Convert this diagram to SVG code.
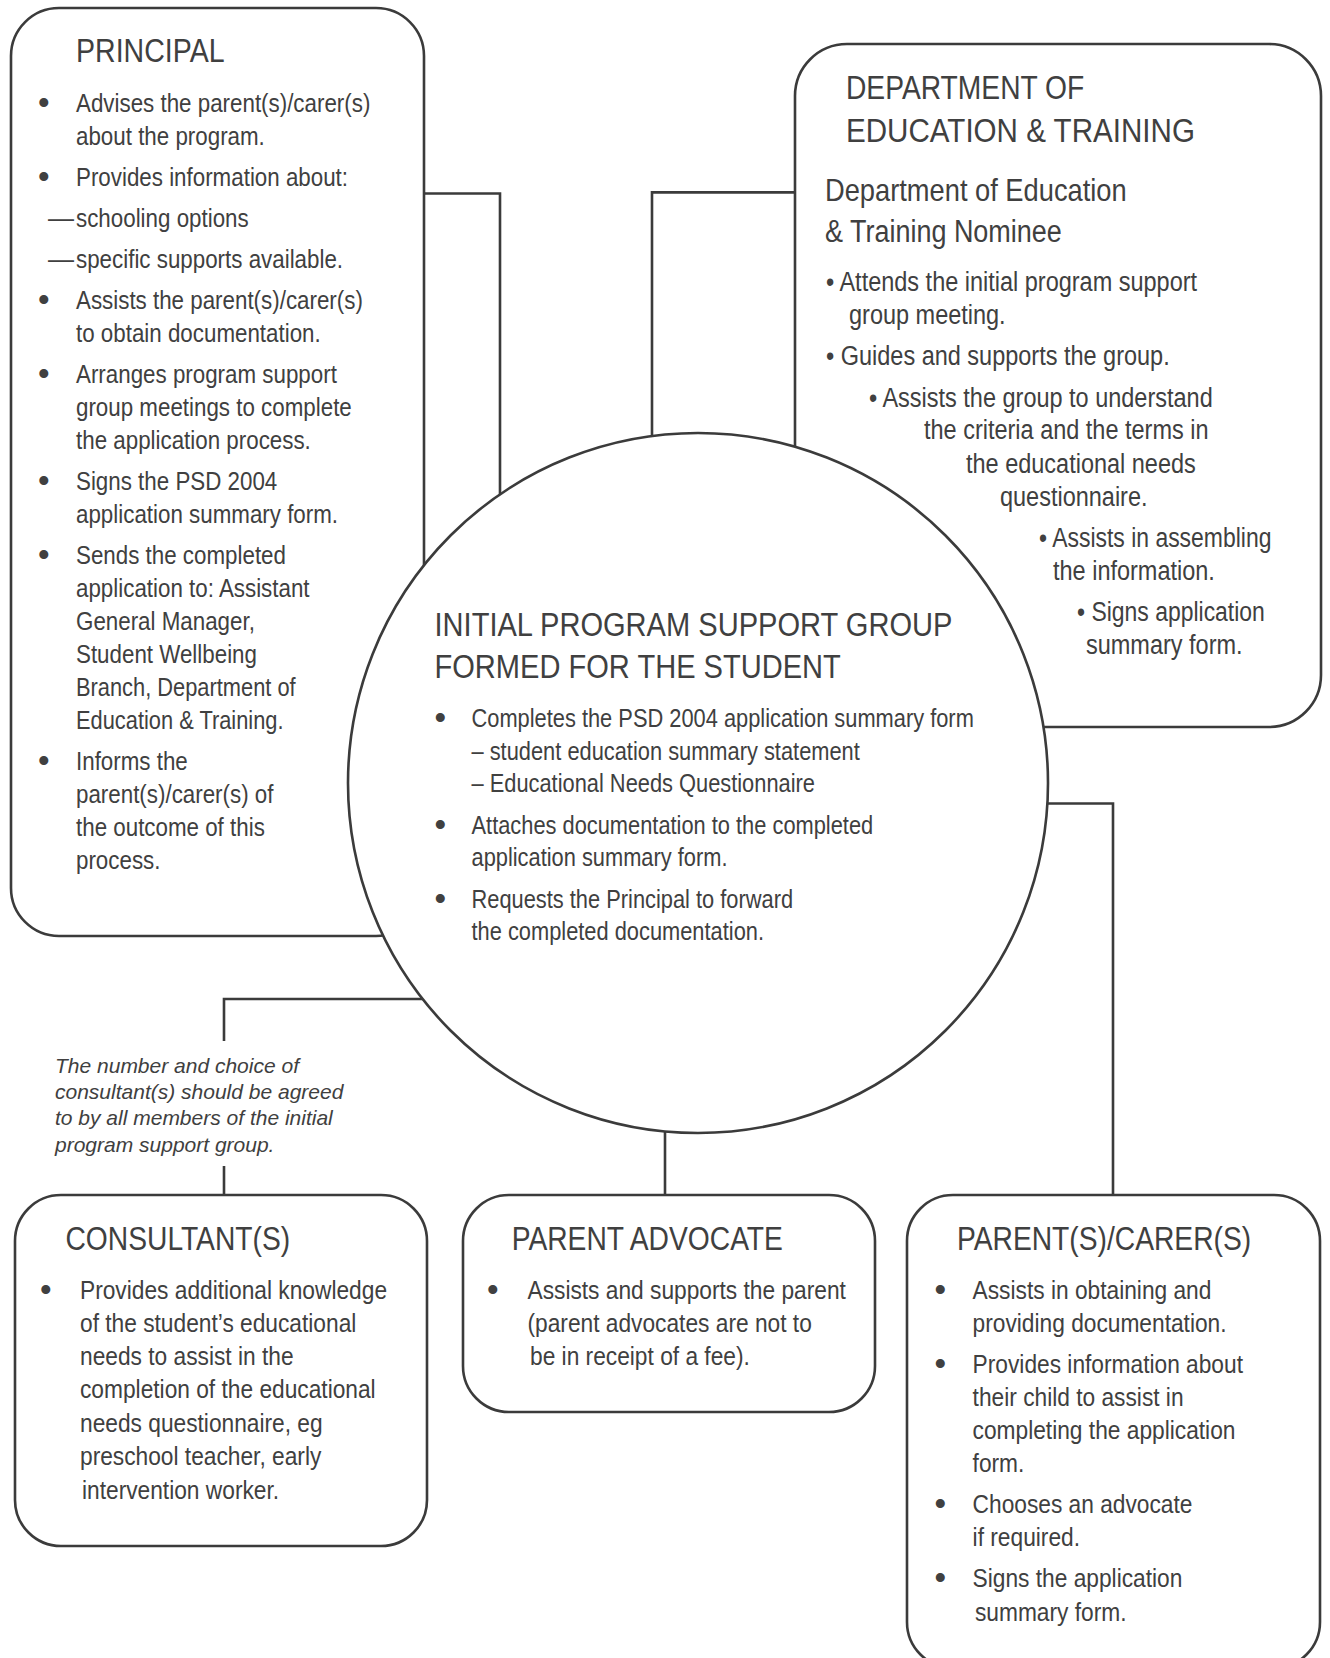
<svg xmlns="http://www.w3.org/2000/svg" width="1330" height="1658" viewBox="0 0 1330 1658">
<style>
text{font-family:"Liberation Sans",Arial,sans-serif;fill:#404040}
.h{font-size:34px}
.b{font-size:26px}
.u{font-size:33px}
.d{font-size:27px}
.s{font-size:31px}
.n{font-size:21px;font-style:italic}
.box{fill:#fff;stroke:#3b3b3b;stroke-width:2.6}
.con{fill:none;stroke:#3b3b3b;stroke-width:2.6}
</style>
<rect width="1330" height="1658" fill="#fff"/>
<g id="connectors">
<path class="con" d="M424 193.5H500V530"/>
<path class="con" d="M795 192.4H652V470"/>
<path class="con" d="M460 999H224V1041"/>
<path class="con" d="M224 1166V1195"/>
<path class="con" d="M665 1110V1195"/>
<path class="con" d="M1020 803.5H1113V1195"/>
</g>
<g id="principal">
<rect class="box" x="11" y="8" width="413" height="928" rx="48"/>
<text class="h" transform="translate(76 62) scale(.84 1)">PRINCIPAL</text>
<text class="u" x="38" y="114">•</text>
<text class="b" transform="translate(76 112) scale(.86 1)">Advises the parent(s)/carer(s)</text>
<text class="b" transform="translate(76 145) scale(.86 1)">about the program.</text>
<text class="u" x="38" y="188">•</text>
<text class="b" transform="translate(76 186) scale(.86 1)">Provides information about:</text>
<text class="b" x="48" y="227">—</text>
<text class="b" transform="translate(76 227) scale(.86 1)">schooling options</text>
<text class="b" x="48" y="268">—</text>
<text class="b" transform="translate(76 268) scale(.86 1)">specific supports available.</text>
<text class="u" x="38" y="311">•</text>
<text class="b" transform="translate(76 309) scale(.86 1)">Assists the parent(s)/carer(s)</text>
<text class="b" transform="translate(76 342) scale(.86 1)">to obtain documentation.</text>
<text class="u" x="38" y="385">•</text>
<text class="b" transform="translate(76 383) scale(.86 1)">Arranges program support</text>
<text class="b" transform="translate(76 416) scale(.86 1)">group meetings to complete</text>
<text class="b" transform="translate(76 449) scale(.86 1)">the application process.</text>
<text class="u" x="38" y="492">•</text>
<text class="b" transform="translate(76 490) scale(.86 1)">Signs the PSD 2004</text>
<text class="b" transform="translate(76 523) scale(.86 1)">application summary form.</text>
<text class="u" x="38" y="566">•</text>
<text class="b" transform="translate(76 564) scale(.86 1)">Sends the completed</text>
<text class="b" transform="translate(76 597) scale(.86 1)">application to: Assistant</text>
<text class="b" transform="translate(76 630) scale(.86 1)">General Manager,</text>
<text class="b" transform="translate(76 663) scale(.86 1)">Student Wellbeing</text>
<text class="b" transform="translate(76 696) scale(.84 1)">Branch, Department of</text>
<text class="b" transform="translate(76 729) scale(.84 1)">Education &amp; Training.</text>
<text class="u" x="38" y="772">•</text>
<text class="b" transform="translate(76 770) scale(.86 1)">Informs the</text>
<text class="b" transform="translate(76 803) scale(.86 1)">parent(s)/carer(s) of</text>
<text class="b" transform="translate(76 836) scale(.86 1)">the outcome of this</text>
<text class="b" transform="translate(76 869) scale(.86 1)">process.</text>
</g>
<g id="det">
<rect class="box" x="795" y="44" width="526" height="683" rx="52"/>
<text class="h" transform="translate(846 99) scale(.83 1)">DEPARTMENT OF</text>
<text class="h" transform="translate(846 142) scale(.87 1)">EDUCATION &amp; TRAINING</text>
<text class="s" transform="translate(825 201) scale(.88 1)">Department of Education</text>
<text class="s" transform="translate(825 242) scale(.87 1)">&amp; Training Nominee</text>
<text class="d" transform="translate(826 291) scale(.87 1)">• Attends the initial program support</text>
<text class="d" transform="translate(849 324) scale(.87 1)">group meeting.</text>
<text class="d" transform="translate(826 365) scale(.87 1)">• Guides and supports the group.</text>
<text class="d" transform="translate(869 407) scale(.87 1)">• Assists the group to understand</text>
<text class="d" transform="translate(924 439) scale(.87 1)">the criteria and the terms in</text>
<text class="d" transform="translate(966 473) scale(.87 1)">the educational needs</text>
<text class="d" transform="translate(1000 506) scale(.87 1)">questionnaire.</text>
<text class="d" transform="translate(1039 547) scale(.85 1)">• Assists in assembling</text>
<text class="d" transform="translate(1053 580) scale(.87 1)">the information.</text>
<text class="d" transform="translate(1077 621) scale(.85 1)">• Signs application</text>
<text class="d" transform="translate(1086 654) scale(.87 1)">summary form.</text>
</g>
<g id="support-group">
<circle class="box" cx="698" cy="783" r="350"/>
<text class="h" transform="translate(434.5 636) scale(.855 1)">INITIAL PROGRAM SUPPORT GROUP</text>
<text class="h" transform="translate(434.5 678) scale(.855 1)">FORMED FOR THE STUDENT</text>
<text class="u" x="434.5" y="729">•</text>
<text class="b" transform="translate(471.5 727) scale(.84 1)">Completes the PSD 2004 application summary form</text>
<text class="b" transform="translate(471.5 760) scale(.84 1)">– student education summary statement</text>
<text class="b" transform="translate(471.5 792) scale(.84 1)">– Educational Needs Questionnaire</text>
<text class="u" x="434.5" y="836">•</text>
<text class="b" transform="translate(471.5 834) scale(.84 1)">Attaches documentation to the completed</text>
<text class="b" transform="translate(471.5 866) scale(.84 1)">application summary form.</text>
<text class="u" x="434.5" y="910">•</text>
<text class="b" transform="translate(471.5 908) scale(.84 1)">Requests the Principal to forward</text>
<text class="b" transform="translate(471.5 940) scale(.84 1)">the completed documentation.</text>
</g>
<g id="note">
<text class="n" x="55" y="1073">The number and choice of</text>
<text class="n" x="55" y="1099">consultant(s) should be agreed</text>
<text class="n" x="55" y="1125">to by all members of the initial</text>
<text class="n" x="55" y="1152">program support group.</text>
</g>
<g id="consultants">
<rect class="box" x="15" y="1195" width="412" height="351" rx="46"/>
<text class="h" transform="translate(65.5 1250) scale(.83 1)">CONSULTANT(S)</text>
<text class="u" x="40" y="1301">•</text>
<text class="b" transform="translate(80 1299) scale(.875 1)">Provides additional knowledge</text>
<text class="b" transform="translate(80 1332) scale(.875 1)">of the student’s educational</text>
<text class="b" transform="translate(80 1365) scale(.875 1)">needs to assist in the</text>
<text class="b" transform="translate(80 1398) scale(.875 1)">completion of the educational</text>
<text class="b" transform="translate(80 1432) scale(.875 1)">needs questionnaire, eg</text>
<text class="b" transform="translate(80 1465) scale(.875 1)">preschool teacher, early</text>
<text class="b" transform="translate(82 1499) scale(.875 1)">intervention worker.</text>
</g>
<g id="parent-advocate">
<rect class="box" x="463" y="1195" width="412" height="217" rx="46"/>
<text class="h" transform="translate(511.7 1250) scale(.83 1)">PARENT ADVOCATE</text>
<text class="u" x="487" y="1301">•</text>
<text class="b" transform="translate(527.5 1299) scale(.875 1)">Assists and supports the parent</text>
<text class="b" transform="translate(527.5 1332) scale(.875 1)">(parent advocates are not to</text>
<text class="b" transform="translate(530 1365) scale(.875 1)">be in receipt of a fee).</text>
</g>
<g id="parents-carers">
<rect class="box" x="907" y="1195" width="413" height="473" rx="46"/>
<text class="h" transform="translate(957 1250) scale(.83 1)">PARENT(S)/CARER(S)</text>
<text class="u" x="934.5" y="1301">•</text>
<text class="b" transform="translate(972.6 1299) scale(.875 1)">Assists in obtaining and</text>
<text class="b" transform="translate(972.6 1332) scale(.875 1)">providing documentation.</text>
<text class="u" x="934.5" y="1375">•</text>
<text class="b" transform="translate(972.6 1373) scale(.875 1)">Provides information about</text>
<text class="b" transform="translate(972.6 1406) scale(.875 1)">their child to assist in</text>
<text class="b" transform="translate(972.6 1439) scale(.875 1)">completing the application</text>
<text class="b" transform="translate(972.6 1472) scale(.875 1)">form.</text>
<text class="u" x="934.5" y="1515">•</text>
<text class="b" transform="translate(972.6 1513) scale(.875 1)">Chooses an advocate</text>
<text class="b" transform="translate(972.6 1546) scale(.875 1)">if required.</text>
<text class="u" x="934.5" y="1589">•</text>
<text class="b" transform="translate(972.6 1587) scale(.875 1)">Signs the application</text>
<text class="b" transform="translate(975 1621) scale(.875 1)">summary form.</text>
</g>
</svg>
